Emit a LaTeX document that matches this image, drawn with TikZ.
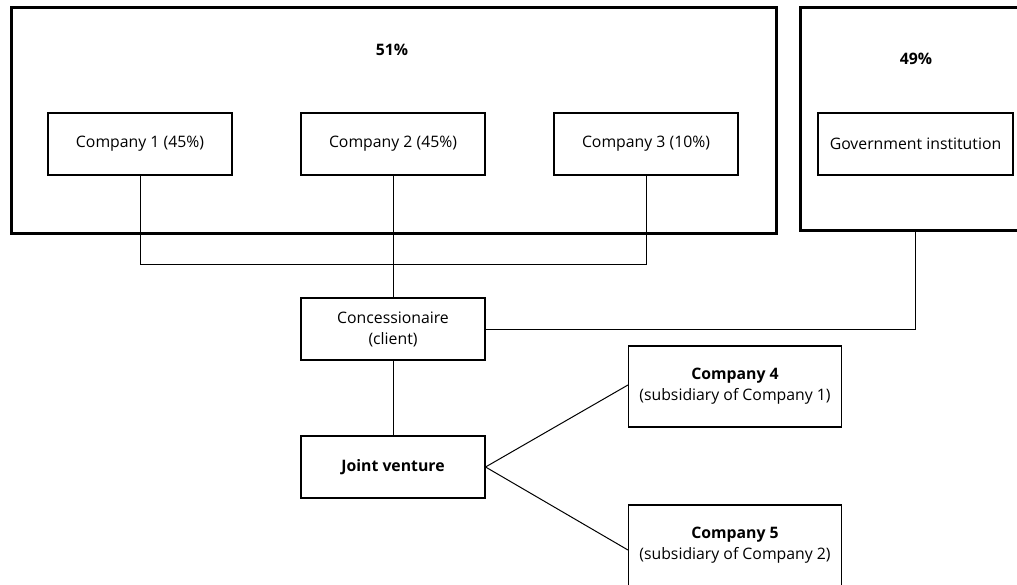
\documentclass[tikz,border=0pt]{standalone}
\usepackage{fontspec}
\setmainfont{Open Sans}
\usetikzlibrary{calc}
\begin{document}
\begin{tikzpicture}[x=1pt,y=-1pt,
  outerbox/.style={draw, line width=2.6pt, inner sep=0pt, anchor=north west},
  item/.style={draw, line width=1.1pt, inner sep=0pt, align=center,
    minimum width=184pt, minimum height=62pt,
    font=\fontsize{15.8}{21}\selectfont},
  wide/.style={item, minimum width=213pt, minimum height=81pt},
  pct/.style={font=\fontsize{15.8}{18}\selectfont\bfseries},
  link/.style={line width=1pt}]
\useasboundingbox (0,0) rectangle (1017,585);
\clip (0,0) rectangle (1017,585);
% outer groups
\node[outerbox, minimum width=765pt, minimum height=226pt] (g51) at (10,6) {};
\node[outerbox, minimum width=240pt, minimum height=223pt] (g49) at (799,6) {};
\node[pct] (p51) at (392,50) {51\%};
\node[pct] (p49) at (916,59) {49\%};
% companies
\node[item] (c1) at (140,144) {Company 1 (45\%)};
\node[item] (c2) at (393,144) {Company 2 (45\%)};
\node[item] (c3) at (646,144) {Company 3 (10\%)};
\node[item, minimum width=195pt] (gov) at (915.5,144) {Government institution};
\node[item] (conc) at (393,329) {Concessionaire\\(client)};
\node[item] (jv) at (393,467) {\textbf{Joint venture}};
\node[wide] (c4) at (735,386.5) {\textbf{Company 4}\\(subsidiary of Company 1)};
\node[wide] (c5) at (735,545.5) {\textbf{Company 5}\\(subsidiary of Company 2)};
% connectors
\coordinate (bus) at (0,265);
\draw[link] (c1.south) -- (c1.south |- bus) -- (c3.south |- bus) -- (c3.south);
\draw[link] (c2.south) -- (conc.north);
\draw[link] (conc.east) -- (conc.east -| gov.south) -- (g49.south -| gov.south);
\draw[link] (conc.south) -- (jv.north);
\draw[link] (jv.east) -- ($(c4.west)+(0,-1.5)$);
\draw[link] (jv.east) -- ($(c5.west)+(0,4.5)$);
\end{tikzpicture}
\end{document}
